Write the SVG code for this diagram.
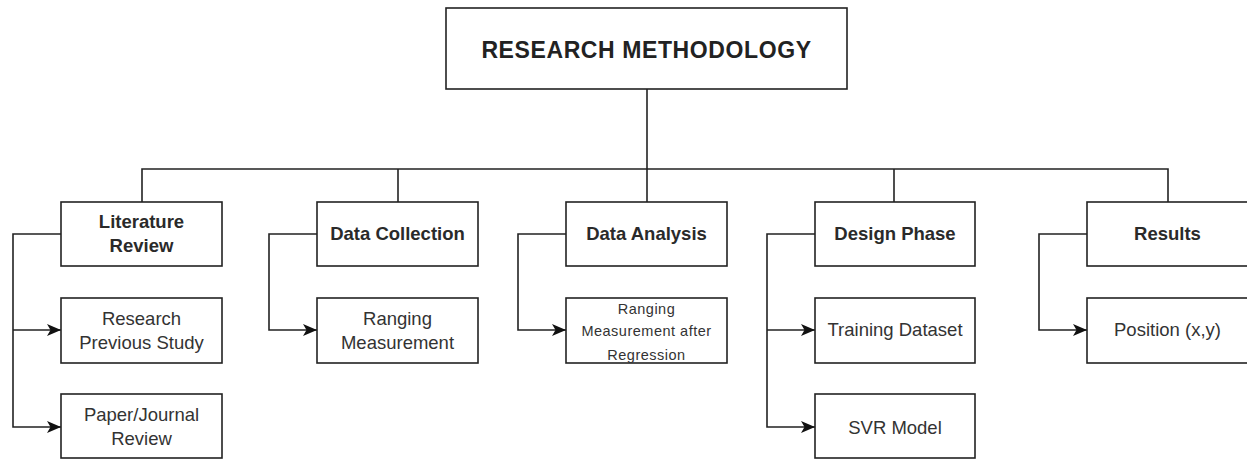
<svg xmlns="http://www.w3.org/2000/svg" width="1247" height="459" viewBox="0 0 1247 459">
<style>
.box{fill:#fff;stroke:#222;stroke-width:1.6}
.ln{fill:none;stroke:#222;stroke-width:1.6}
.t{font-family:"Liberation Sans",Arial,sans-serif;text-anchor:middle;fill:#333}
.b{font-weight:bold;font-size:18.5px;fill:#2a2a2a}
.n{font-size:18.5px}
.s{font-size:14.5px;letter-spacing:0.5px}
.title{font-weight:bold;font-size:23px;letter-spacing:0.6px;fill:#222}
</style>
<defs>
<marker id="arr" viewBox="0 0 14 12" refX="14" refY="6" markerWidth="14" markerHeight="12" markerUnits="userSpaceOnUse" orient="auto">
<path d="M0,0 L14,6 L0,12 L3.5,6 Z" fill="#111"/>
</marker>
</defs>
<rect width="1247" height="459" fill="#fff"/>
<g id="connectors">
<path class="ln" d="M647,89 V202"/>
<path class="ln" d="M142,202 V169 H1168 V202"/>
<path class="ln" d="M398,169 V202"/>
<path class="ln" d="M894,169 V202" stroke="#666"/>
<path class="ln" d="M61,234 H13 V427 H61" marker-end="url(#arr)"/>
<path class="ln" d="M13,330 H61" marker-end="url(#arr)"/>
<path class="ln" d="M317,234 H269 V330 H317" marker-end="url(#arr)"/>
<path class="ln" d="M566,234 H518 V330 H566" marker-end="url(#arr)"/>
<path class="ln" d="M815,234 H767 V427 H815" marker-end="url(#arr)"/>
<path class="ln" d="M767,330 H815" marker-end="url(#arr)"/>
<path class="ln" d="M1087,234 H1039 V330 H1087" marker-end="url(#arr)"/>
</g>
<g id="root"><rect class="box" x="446" y="8" width="401" height="81"/><text class="t title" x="646.5" y="58">RESEARCH METHODOLOGY</text></g>
<g id="lit"><rect class="box" x="61" y="202" width="161" height="64"/><text class="t b" x="141.5" y="228">Literature</text><text class="t b" x="141.5" y="252">Review</text></g>
<g id="datacol"><rect class="box" x="317" y="202" width="161" height="64"/><text class="t b" x="397.5" y="240">Data Collection</text></g>
<g id="dataan"><rect class="box" x="566" y="202" width="161" height="64"/><text class="t b" x="646.5" y="240">Data Analysis</text></g>
<g id="design"><rect class="box" x="815" y="202" width="160" height="64"/><text class="t b" x="895" y="240">Design Phase</text></g>
<g id="results"><rect class="box" x="1087" y="202" width="161" height="64"/><text class="t b" x="1167.5" y="240">Results</text></g>
<g id="research"><rect class="box" x="61" y="298" width="161" height="65"/><text class="t n" x="141.5" y="325">Research</text><text class="t n" x="141.5" y="349">Previous Study</text></g>
<g id="paper"><rect class="box" x="61" y="394" width="161" height="64"/><text class="t n" x="141.5" y="421">Paper/Journal</text><text class="t n" x="141.5" y="445">Review</text></g>
<g id="ranging"><rect class="box" x="317" y="298" width="161" height="65"/><text class="t n" x="397.5" y="325">Ranging</text><text class="t n" x="397.5" y="349">Measurement</text></g>
<g id="rangingreg"><rect class="box" x="566" y="298" width="161" height="65"/><text class="t s" x="646.5" y="314">Ranging</text><text class="t s" x="646.5" y="336">Measurement after</text><text class="t s" x="646.5" y="360">Regression</text></g>
<g id="training"><rect class="box" x="815" y="298" width="160" height="65"/><text class="t n" x="895" y="336">Training Dataset</text></g>
<g id="svr"><rect class="box" x="815" y="394" width="160" height="64"/><text class="t n" x="895" y="434">SVR Model</text></g>
<g id="position"><rect class="box" x="1087" y="298" width="161" height="65"/><text class="t n" x="1167.5" y="336">Position (x,y)</text></g>
</svg>
